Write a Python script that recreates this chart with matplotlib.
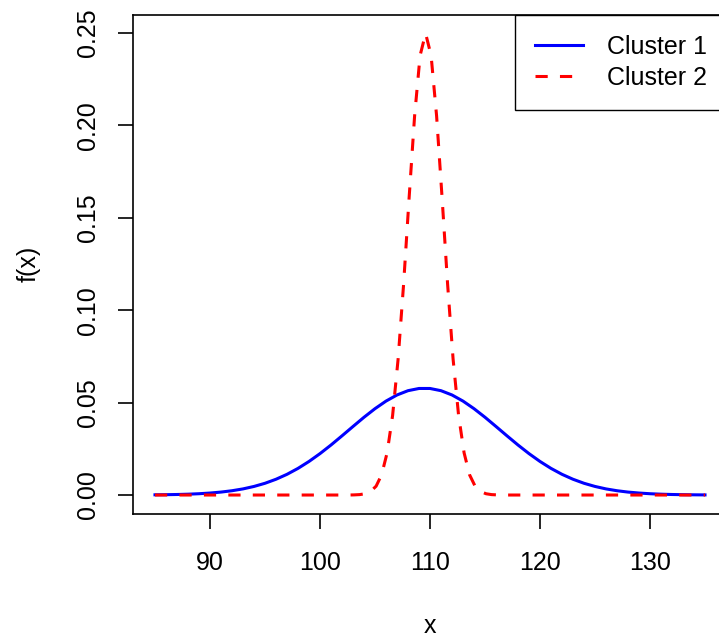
import matplotlib
matplotlib.use("Agg")
import matplotlib.pyplot as plt

plt.rcParams['font.family'] = ['Liberation Sans', 'DejaVu Sans']

# density curves
x1 = list(range(85, 136))
cluster1 = [0.00011, 0.00018, 0.00028, 0.00045, 0.00070, 0.00107, 0.00159, 0.00232,
            0.00331, 0.00464, 0.00635, 0.00853, 0.01120, 0.01441, 0.01816, 0.02240,
            0.02706, 0.03202, 0.03708, 0.04207, 0.04672, 0.05082, 0.05413, 0.05645,
            0.05765, 0.05765, 0.05645, 0.05413, 0.05082, 0.04672, 0.04207, 0.03708,
            0.03202, 0.02706, 0.02240, 0.01816, 0.01441, 0.01120, 0.00853, 0.00635,
            0.00464, 0.00331, 0.00232, 0.00159, 0.00107, 0.00070, 0.00045, 0.00028,
            0.00018, 0.00011, 0.00006]

x2 = [85.0, 102.6, 103.1, 103.6, 104.1, 104.6, 105.1, 105.6, 106.1, 106.6, 107.1,
      107.6, 108.1, 108.6, 109.1, 109.6, 110.1, 110.6, 111.1, 111.6, 112.1, 112.6,
      113.1, 113.6, 114.1, 114.6, 115.1, 115.6, 116.1, 116.6, 135.0]
cluster2 = [0.0, 0.0, 0.00007, 0.00022, 0.00068, 0.00189, 0.00478, 0.0109, 0.0228,
            0.0430, 0.0735, 0.1141, 0.1607, 0.2051, 0.2378, 0.2498, 0.2378, 0.2051,
            0.1607, 0.1141, 0.0735, 0.0430, 0.0228, 0.0109, 0.00478, 0.00189,
            0.00068, 0.00022, 0.00007, 0.0, 0.0]

labels = ['Cluster 1', 'Cluster 2']
xticks = [90, 100, 110, 120, 130]
yticks = [0.00, 0.05, 0.10, 0.15, 0.20, 0.25]

fs = 18

fig = plt.figure(figsize=(7.19, 6.44), dpi=100)
# right edge of the plot box falls just outside the image, as in the original
ax = fig.add_axes([133 / 719, 130.5 / 644, 594 / 719, 499 / 644])

ax.plot(x1, cluster1, color='blue', lw=2.2, label=labels[0])
ax.plot(x2, cluster2, color='red', lw=2.2, linestyle=(0, (4, 4)), label=labels[1])

ax.set_xlim(83, 137)
ax.set_ylim(-0.01, 0.26)
ax.set_xticks(xticks)
ax.set_yticks(yticks)
ax.set_xticklabels([str(t) for t in xticks])
ax.set_yticklabels(['%.2f' % t for t in yticks])

for s in ax.spines.values():
    s.set_linewidth(1.2)
ax.tick_params(axis='both', direction='out', length=11, width=1.2,
               labelsize=fs)
ax.tick_params(axis='x', pad=16)
ax.tick_params(axis='y', pad=13, labelrotation=90)
for lab in ax.get_yticklabels():
    lab.set_va('center')

ax.set_xlabel('x', fontsize=fs, labelpad=28)
ax.set_ylabel('f(x)', fontsize=fs, labelpad=25)

leg = ax.legend(loc='upper right', bbox_to_anchor=(1, 1), borderaxespad=0,
                fontsize=fs, handlelength=1.95, handletextpad=0.95,
                borderpad=0.8, labelspacing=0.3, fancybox=False,
                edgecolor='black', framealpha=1)
leg.get_frame().set_linewidth(1.0)

fig.savefig('out.png', dpi=100)
